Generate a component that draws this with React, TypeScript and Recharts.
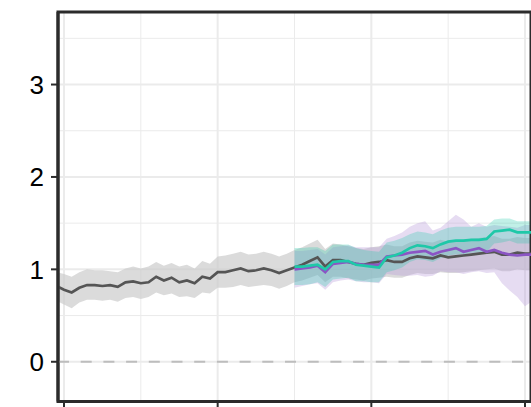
import {
  ComposedChart,
  Line,
  Area,
  XAxis,
  YAxis,
  CartesianGrid,
  ReferenceLine,
  ReferenceArea,
} from "recharts";

// time steps (index on the x axis)
const greyStart = -1;
const forecastStart = 30;

const greyMean = [
  0.82, 0.78, 0.75, 0.8, 0.83, 0.83, 0.82, 0.83, 0.81, 0.86, 0.87, 0.85, 0.86, 0.92, 0.88, 0.91,
  0.86, 0.88, 0.85, 0.92, 0.9, 0.97, 0.97, 0.99, 1.01, 0.98, 0.99, 1.01, 0.99, 0.96, 0.99, 1.02,
  1.05, 1.09, 1.13, 1.03, 1.1, 1.1, 1.08, 1.06, 1.05, 1.07, 1.08, 1.1, 1.08, 1.08, 1.12, 1.14,
  1.13, 1.12, 1.15, 1.13, 1.14, 1.15, 1.16, 1.17, 1.18, 1.19, 1.16, 1.16, 1.18, 1.17, 1.17,
];
const greyHigh = [
  0.97, 0.95, 0.92, 0.97, 1.0, 0.99, 0.99, 0.98, 0.97, 1.01, 1.03, 1.01, 1.03, 1.08, 1.04, 1.07,
  1.03, 1.05, 1.01, 1.09, 1.06, 1.14, 1.15, 1.17, 1.19, 1.16, 1.17, 1.19, 1.17, 1.14, 1.17, 1.21,
  1.24, 1.28, 1.32, 1.22, 1.28, 1.27, 1.25, 1.23, 1.22, 1.24, 1.25, 1.27, 1.25, 1.25, 1.29, 1.31,
  1.3, 1.29, 1.32, 1.3, 1.31, 1.32, 1.33, 1.34, 1.35, 1.36, 1.33, 1.33, 1.35, 1.34, 1.34,
];
const greyLow = [
  0.66, 0.62, 0.58, 0.64, 0.67, 0.67, 0.66, 0.67, 0.65, 0.69, 0.7, 0.68, 0.7, 0.75, 0.72, 0.74,
  0.7, 0.71, 0.69, 0.75, 0.74, 0.8, 0.8, 0.81, 0.83, 0.81, 0.82, 0.83, 0.82, 0.79, 0.82, 0.86,
  0.88, 0.91, 0.94, 0.86, 0.92, 0.92, 0.9, 0.89, 0.88, 0.9, 0.91, 0.92, 0.91, 0.91, 0.94, 0.96,
  0.95, 0.95, 0.97, 0.96, 0.96, 0.97, 0.98, 0.99, 1.0, 1.01, 0.98, 0.98, 1.0, 0.99, 0.99,
];

const purpleMean = [
  1.0, 1.01, 1.02, 1.04, 0.97, 1.06, 1.07, 1.08, 1.06, 1.05, 1.05, 1.05, 1.14, 1.15, 1.16, 1.18,
  1.19, 1.2, 1.16, 1.19, 1.21, 1.23, 1.19, 1.21, 1.23, 1.19, 1.21, 1.18, 1.16, 1.15, 1.16, 1.16,
];
const purpleHigh = [
  1.2, 1.2, 1.21, 1.22, 1.16, 1.24, 1.25, 1.26, 1.24, 1.24, 1.24, 1.24, 1.33, 1.36, 1.4, 1.46,
  1.5, 1.52, 1.42, 1.45, 1.52, 1.59, 1.54, 1.46, 1.5, 1.46, 1.48, 1.47, 1.46, 1.45, 1.48, 1.48,
];
const purpleLow = [
  0.8, 0.82, 0.84, 0.85, 0.78, 0.86, 0.88, 0.89, 0.87, 0.86, 0.86, 0.85, 0.95, 0.94, 0.93, 0.93,
  0.94, 0.92, 0.93, 0.98, 0.97, 0.97, 0.95, 0.97, 0.98, 0.96, 0.97, 0.85, 0.77, 0.7, 0.6, 0.66,
];

const tealMean = [
  1.03, 1.03, 1.04, 1.05, 1.0, 1.08, 1.09, 1.09, 1.05, 1.04, 1.03, 1.02, 1.13, 1.15, 1.18, 1.23,
  1.26, 1.25, 1.23, 1.27, 1.3, 1.31, 1.31, 1.32, 1.32, 1.33, 1.41, 1.42, 1.43, 1.4, 1.4, 1.4,
];
const tealHigh = [
  1.23, 1.23, 1.24, 1.24, 1.2, 1.27, 1.27, 1.27, 1.23, 1.21, 1.2, 1.19, 1.29, 1.31, 1.34, 1.38,
  1.41, 1.4, 1.38, 1.42, 1.45, 1.46, 1.46, 1.46, 1.46, 1.47, 1.54, 1.55, 1.55, 1.52, 1.52, 1.52,
];
const tealLow = [
  0.83, 0.83, 0.84, 0.86, 0.81, 0.89, 0.9, 0.91, 0.87, 0.87, 0.86, 0.86, 0.97, 0.99, 1.02, 1.08,
  1.11, 1.1, 1.08, 1.12, 1.15, 1.16, 1.16, 1.18, 1.18, 1.19, 1.28, 1.29, 1.31, 1.28, 1.28, 1.28,
];

const yTicks = [0, 1, 2, 3];
const yMinor = [0.5, 1.5, 2.5, 3.5];
const xTicks = [0, 20, 40, 60];
const xMinor = [10, 30, 50];
const xDomain: [number, number] = [-0.78, 60.78];
const yDomain: [number, number] = [-0.43, 3.785];

const build = (start: number, mean: number[], lo: number[], hi: number[]) =>
  mean.map((m, i) => ({ t: start + i, mean: m, band: [lo[i], hi[i]] }));

const greyData = build(greyStart, greyMean, greyLow, greyHigh);
const purpleData = build(forecastStart, purpleMean, purpleLow, purpleHigh);
const tealData = build(forecastStart, tealMean, tealLow, tealHigh);

const GREY = "#555555";
const PURPLE = "#8b55c4";
const TEAL = "#1fc8a8";
const BORDER = "#2b2b2b";

export default function App() {
  return (
    <div
      style={{
        position: "absolute",
        left: 0,
        top: 0,
        width: 531,
        height: 407,
        overflow: "hidden",
        background: "#fff",
      }}
    >
      <ComposedChart
        width={540}
        height={407}
        margin={{ top: 12, right: 9, bottom: 0, left: 0 }}
      >
        <CartesianGrid
          stroke="#ebebeb"
          strokeWidth={1}
          horizontalValues={yMinor}
          verticalValues={xMinor}
        />
        <CartesianGrid
          stroke="#ebebeb"
          strokeWidth={2}
          horizontalValues={yTicks}
          verticalValues={xTicks}
        />
        <XAxis
          type="number"
          dataKey="t"
          domain={xDomain}
          ticks={xTicks}
          allowDataOverflow
          height={5.5}
          tickSize={7}
          tickFormatter={() => ""}
          axisLine={{ stroke: BORDER, strokeWidth: 3 }}
          tickLine={{ stroke: BORDER, strokeWidth: 2 }}
        />
        <YAxis
          type="number"
          domain={yDomain}
          ticks={yTicks}
          allowDataOverflow
          width={58}
          tickSize={7}
          tickMargin={7}
          tick={{ fill: "#000", fontSize: 26, fontFamily: "Liberation Sans, Arial, sans-serif" }}
          axisLine={{ stroke: BORDER, strokeWidth: 3 }}
          tickLine={{ stroke: BORDER, strokeWidth: 2 }}
        />
        <ReferenceLine
          y={0}
          stroke="#bdbdbd"
          strokeWidth={2}
          strokeDasharray="11 11.7"
        />
        <Area
          data={greyData}
          dataKey="band"
          type="linear"
          stroke="none"
          fill="#cccccc"
          fillOpacity={0.7}
          isAnimationActive={false}
        />
        <Area
          data={purpleData}
          dataKey="band"
          type="linear"
          stroke="none"
          fill="#b89ad9"
          fillOpacity={0.35}
          isAnimationActive={false}
        />
        <Area
          data={tealData}
          dataKey="band"
          type="linear"
          stroke="none"
          fill={TEAL}
          fillOpacity={0.28}
          isAnimationActive={false}
        />
        <Line
          data={greyData}
          dataKey="mean"
          type="linear"
          stroke={GREY}
          strokeWidth={2.7}
          dot={false}
          isAnimationActive={false}
        />
        <Line
          data={purpleData}
          dataKey="mean"
          type="linear"
          stroke={PURPLE}
          strokeWidth={2.7}
          dot={false}
          isAnimationActive={false}
        />
        <Line
          data={tealData}
          dataKey="mean"
          type="linear"
          stroke={TEAL}
          strokeWidth={2.7}
          dot={false}
          isAnimationActive={false}
        />
        <ReferenceArea
          x1={xDomain[0]}
          x2={xDomain[1]}
          y1={yDomain[0]}
          y2={yDomain[1]}
          fill="none"
          stroke={BORDER}
          strokeWidth={3}
          ifOverflow="visible"
        />
      </ComposedChart>
    </div>
  );
}
